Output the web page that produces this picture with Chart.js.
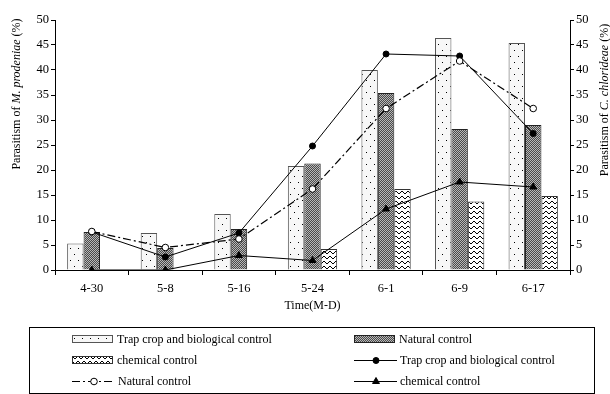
<!DOCTYPE html>
<html>
<head>
<meta charset="utf-8">
<script src="https://cdn.jsdelivr.net/npm/chart.js@4/dist/chart.umd.min.js"></script>
<style>
html,body{margin:0;padding:0;background:#fff;}
#wrap{width:610px;height:394px;position:relative;}
</style>
</head>
<body>
<div id="wrap"><canvas id="c" width="610" height="394"></canvas></div>
<script>
const categories = ['4-30','5-8','5-16','5-24','6-1','6-9','6-17'];
const barTrap     = [5.3, 7.4, 11.2, 20.8, 40.0, 46.4, 45.4];
const barNatural  = [7.6, 4.4, 8.2, 21.3, 35.4, 28.2, 29.0];
const barChemical = [0, 0, 0, 4.2, 16.2, 13.7, 14.8];
const lineTrap     = [7.6, 2.6, 7.4, 24.8, 43.2, 42.8, 27.3];
const lineNatural  = [7.7, 4.5, 6.2, 16.2, 32.3, 41.8, 32.3];
const lineChemical = [0, 0, 2.9, 1.9, 12.2, 17.6, 16.6];
const yTicks = [0,5,10,15,20,25,30,35,40,45,50];
const seriesNames = ['Trap crop and biological control','Natural control','chemical control'];
const xTitle = 'Time(M-D)';
const leftTitle = [['Parasitism of ',false],['M. prodeniae',true],[' (%)',false]];
const rightTitle = [['Parasitism of ',false],['C. chlorideae',true],[' (%)',false]];

const FONT = '"Liberation Serif", "Times New Roman", serif';

function mkPattern(w,h,draw){
  const c=document.createElement('canvas');c.width=w;c.height=h;
  const g=c.getContext('2d');draw(g);
  return document.getElementById('c').getContext('2d').createPattern(c,'repeat');
}
const dotPat = mkPattern(8,12,g=>{
  g.fillStyle='#f7f7f7';g.fillRect(0,0,8,12);
  g.fillStyle='#000';g.fillRect(2,2,1,1);g.fillRect(6,8,1,1);
});
const hatchPat = mkPattern(2,2,g=>{
  g.fillStyle='#4a4a4a';g.fillRect(0,0,2,2);
  g.fillStyle='#b8b8b8';g.fillRect(0,0,1,1);g.fillRect(1,1,1,1);
});
const zigPat = mkPattern(6,5,g=>{
  g.fillStyle='#fff';g.fillRect(0,0,6,5);
  g.strokeStyle='#000';g.lineWidth=1;
  g.beginPath();g.moveTo(0,1);g.lineTo(3,4);g.lineTo(6,1);g.stroke();
});

function richWidth(ctx,parts,size){
  let w=0;
  for(const [t,it] of parts){ctx.font=(it?'italic ':'')+size+'px '+FONT;w+=ctx.measureText(t).width;}
  return w;
}
function drawRich(ctx,parts,cx,cy,size){
  ctx.save();
  ctx.translate(cx,cy);ctx.rotate(-Math.PI/2);
  const w=richWidth(ctx,parts,size);
  let x=-w/2;
  ctx.fillStyle='#000';ctx.textBaseline='middle';ctx.textAlign='left';
  for(const [t,it] of parts){
    ctx.font=(it?'italic ':'')+size+'px '+FONT;
    ctx.fillText(t,x,0);x+=ctx.measureText(t).width;
  }
  ctx.restore();
}

const extras = {
  id:'extras',
  afterDraw(chart){
    const ctx=chart.ctx;
    const ca=chart.chartArea;
    drawRich(ctx,leftTitle,17,94,12);
    drawRich(ctx,rightTitle,605,100,12);
    ctx.save();
    ctx.font='12px '+FONT;ctx.fillStyle='#000';ctx.textAlign='center';ctx.textBaseline='middle';
    ctx.fillText(xTitle,(ca.left+ca.right)/2,306);
    ctx.restore();
    ctx.save();
    ctx.strokeStyle='#000';ctx.lineWidth=1;
    ctx.strokeRect(29.5,327.5,565,66);
    const colX=[72,354], rowY=[339,360,381], sw=40;
    chart.data.datasets.forEach((ds,i)=>{
      const col=i%2,row=Math.floor(i/2);
      const x=colX[col],y=rowY[row];
      if(ds.type==='bar'){
        ctx.fillStyle=ds.backgroundColor;
        ctx.fillRect(x,y-3.5,sw,7);
        ctx.strokeStyle=ds.borderColor;ctx.lineWidth=1;
        ctx.strokeRect(x+0.5,y-3.5,sw,7);
      } else {
        ctx.save();
        ctx.strokeStyle=ds.borderColor;ctx.lineWidth=1.2;
        ctx.setLineDash(ds.borderDash||[]);
        ctx.beginPath();ctx.moveTo(x,y+0.5);ctx.lineTo(x+sw+3,y+0.5);ctx.stroke();
        ctx.setLineDash([]);
        ctx.fillStyle=ds.pointBackgroundColor;ctx.strokeStyle=ds.pointBorderColor;
        ctx.lineWidth=1;
        Chart.helpers.drawPoint(ctx,{pointStyle:ds.pointStyle,radius:ds.pointRadius,rotation:0,borderWidth:1},x+sw/2+2,y+0.5);
        ctx.restore();
      }
      ctx.font='12px '+FONT;ctx.fillStyle='#000';ctx.textAlign='left';ctx.textBaseline='middle';
      ctx.fillText(ds.label,x+sw+(ds.type==='bar'?5:6),y+0.5);
    });
    ctx.restore();
  }
};

const tickFont={family:FONT,size:12.5};
const yCommon={
  min:0,max:50,
  afterBuildTicks(s){s.ticks=yTicks.map(v=>({value:v}));},
  ticks:{font:tickFont,color:'#000',padding:2},
  grid:{drawOnChartArea:false,drawTicks:true,tickLength:4,color:'#000'},
  border:{display:true,color:'#000',width:1}
};

new Chart(document.getElementById('c'),{
  data:{
    labels:categories,
    datasets:[
      {type:'bar',label:seriesNames[0],data:barTrap,yAxisID:'y',backgroundColor:dotPat,borderColor:'#555',borderWidth:1,order:10,categoryPercentage:0.67,barPercentage:1},
      {type:'bar',label:seriesNames[1],data:barNatural,yAxisID:'y',backgroundColor:hatchPat,borderColor:'#222',borderWidth:1,order:10,categoryPercentage:0.67,barPercentage:1},
      {type:'bar',label:seriesNames[2],data:barChemical,yAxisID:'y',backgroundColor:zigPat,borderColor:'#333',borderWidth:1,order:10,categoryPercentage:0.67,barPercentage:1},
      {type:'line',label:seriesNames[0],data:lineTrap,yAxisID:'y1',borderColor:'#000',borderWidth:1,pointStyle:'circle',pointRadius:3,pointBackgroundColor:'#000',pointBorderColor:'#000',pointBorderWidth:1,order:3,tension:0,fill:false},
      {type:'line',label:seriesNames[1],data:lineNatural,yAxisID:'y1',borderColor:'#000',borderWidth:1.2,borderDash:[8,3,2,3],pointStyle:'circle',pointRadius:3.3,pointBackgroundColor:'#fff',pointBorderColor:'#000',pointBorderWidth:1,order:2,tension:0,fill:false},
      {type:'line',label:seriesNames[2],data:lineChemical,yAxisID:'y1',borderColor:'#000',borderWidth:1,pointStyle:'triangle',pointRadius:4,pointBackgroundColor:'#000',pointBorderColor:'#000',pointBorderWidth:1,order:3,tension:0,fill:false}
    ]
  },
  options:{
    responsive:false,animation:false,
    layout:{padding:{top:20,left:0,right:0,bottom:0}},
    plugins:{legend:{display:false},tooltip:{enabled:false}},
    scales:{
      x:{offset:true,
        ticks:{font:tickFont,color:'#000',padding:6,maxRotation:0},
        grid:{offset:true,drawOnChartArea:false,drawTicks:true,tickLength:5,color:'#000'},
        border:{display:true,color:'#000',width:1},
        afterFit(s){s.height=124;}
      },
      y:Object.assign({},yCommon,{position:'left',afterFit(s){s.width=55;}}),
      y1:Object.assign({},yCommon,{position:'right',afterFit(s){s.width=40;}})
    }
  },
  plugins:[extras]
});
</script>
</body>
</html>
